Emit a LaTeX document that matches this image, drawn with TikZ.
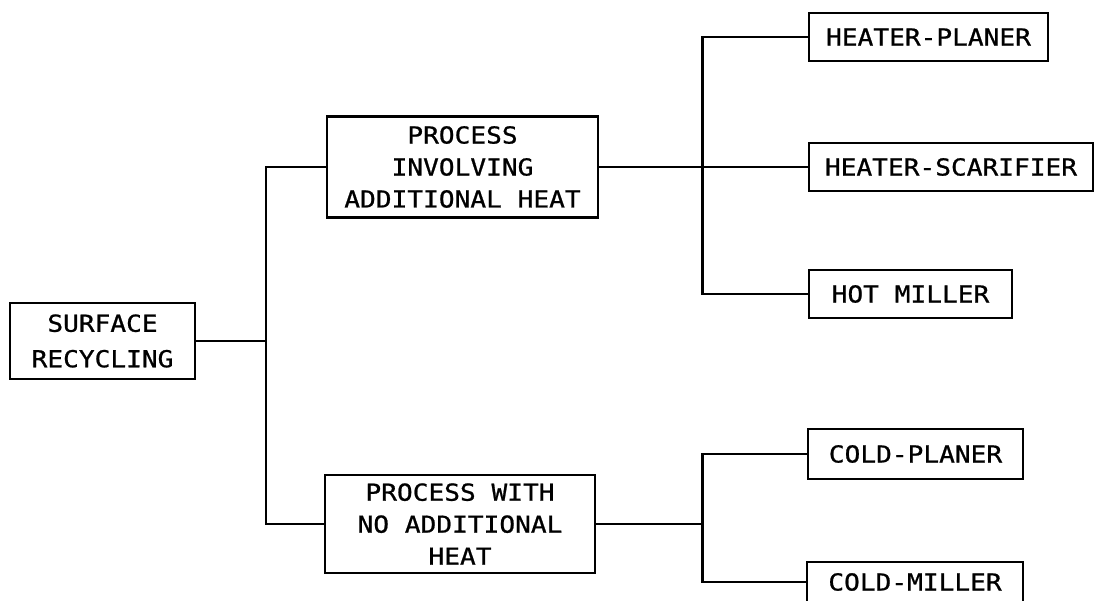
\documentclass[tikz,border=0pt]{standalone}
\usepackage{fontspec}
\newfontfamily\diagfont[FakeStretch=1.12, FakeBold=0.9]{DejaVu Sans Mono}
\usepackage{tikz}
\usetikzlibrary{positioning, calc}

\begin{document}
\begin{tikzpicture}[x=0.02cm, y=-0.02cm,
    box/.style={draw, line width=1.5pt, inner sep=0pt, align=center,
      font=\diagfont\fontsize{13.3}{18.2}\selectfont},
    link/.style={line width=1.7pt}]
    \useasboundingbox (0,0) rectangle (1095,601);
    % main boxes
    \node[box, minimum width=3.7cm, minimum height=1.52cm] (surf) at (102.5,341) {SURFACE\\[2pt]RECYCLING};
    \node[box, minimum width=5.42cm, minimum height=2.02cm] (heat) at (462.5,167) {PROCESS\\INVOLVING\\ADDITIONAL HEAT};
    \node[box, minimum width=5.4cm, minimum height=1.96cm] (noheat) at (460,524) {PROCESS WITH\\NO ADDITIONAL\\HEAT};
    % machines
    \node[box, minimum width=4.78cm, minimum height=0.96cm] (hp) at (928.5,37) {HEATER-PLANER};
    \node[box, minimum width=5.68cm, minimum height=0.96cm] (hs) at (951,167) {HEATER-SCARIFIER};
    \node[box, minimum width=4.06cm, minimum height=0.96cm] (hm) at (910.5,294) {HOT MILLER};
    \node[box, minimum width=4.3cm, minimum height=1.0cm] (cp) at (915.5,454) {COLD-PLANER};
    \node[box, minimum width=4.32cm, minimum height=0.8cm] (cm) at (915,582) {COLD-MILLER};
    % junctions
    \coordinate (j1) at (266,341);
    \coordinate (j2) at (702,167);
    \coordinate (j3) at (702,524);
    \draw[link] (surf.east) -- (j1);
    \draw[link] (heat.west) -| (j1) |- (noheat.west);
    \draw[link] (heat.east) -- (hs.west);
    \draw[link] (hp.west) -| (j2) |- (hm.west);
    \draw[link] (noheat.east) -- (j3);
    \draw[link] (cp.west) -| (j3) |- (cm.west);
\end{tikzpicture}
\end{document}
